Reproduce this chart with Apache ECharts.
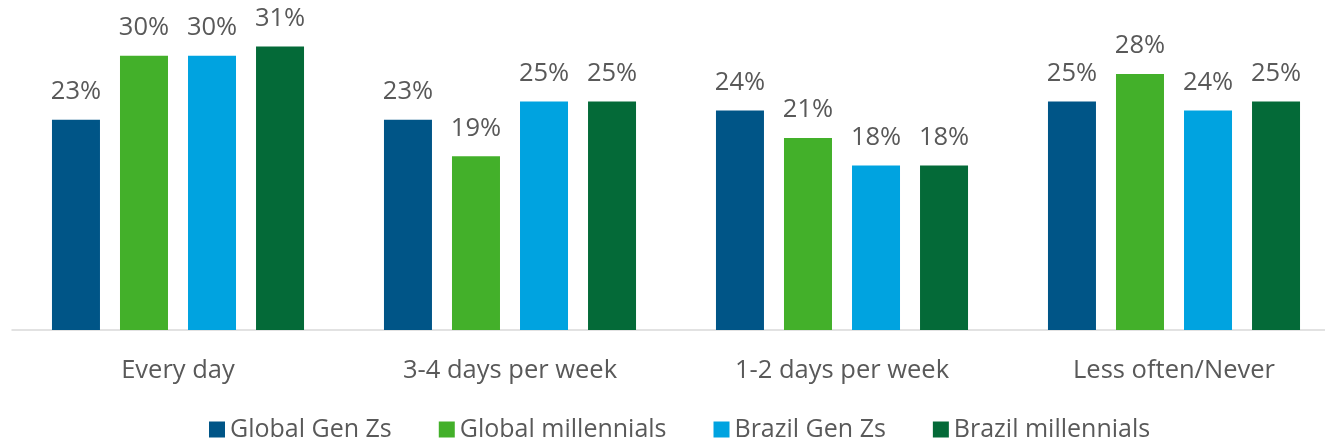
<!DOCTYPE html>
<html>
<head>
<meta charset="utf-8">
<script src="https://cdn.jsdelivr.net/npm/echarts@6/dist/echarts.min.js"></script>
<style>
  html, body { margin: 0; padding: 0; background: #fff; }
  #chart { width: 1325px; height: 442px; }
</style>
</head>
<body>
<div id="chart"></div>
<script>
// data
const categories = ['Every day', '3-4 days per week', '1-2 days per week', 'Less often/Never'];
const globalGenZ = [23, 23, 24, 25];
const globalMillennials = [30, 19, 21, 28];
const brazilGenZ = [30, 25, 18, 24];
const brazilMillennials = [31, 25, 18, 25];

const seriesNames = ['Global Gen Zs', 'Global millennials', 'Brazil Gen Zs', 'Brazil millennials'];
const seriesColors = ['#005587', '#43B02A', '#00A3E0', '#046A38'];
const seriesData = [globalGenZ, globalMillennials, brazilGenZ, brazilMillennials];

const textColor = '#595959';
const font = '"Open Sans", "Noto Sans", sans-serif';

const chart = echarts.init(document.getElementById('chart'));

const option = {
  animation: false,
  textStyle: { fontFamily: font },
  legend: {
    left: 204,
    top: 412,
    itemWidth: 16,
    itemHeight: 16,
    itemGap: 47,
    icon: 'rect',
    textStyle: { color: textColor, fontSize: 25, lineHeight: 24, fontFamily: font },
    data: seriesNames
  },
  grid: {
    left: 12,
    width: 1328,
    top: 10,
    height: 320,
    outerBoundsMode: 'none',
    containLabel: false
  },
  xAxis: {
    type: 'category',
    data: categories,
    axisLine: { lineStyle: { color: '#d9d9d9', width: 1.5 } },
    axisTick: { show: false },
    axisLabel: { color: textColor, fontSize: 25.5, fontFamily: font, margin: 28 }
  },
  yAxis: {
    type: 'value',
    min: 0,
    max: 35,
    show: false,
    splitLine: { show: false }
  },
  series: seriesData.map((d, i) => ({
    name: seriesNames[i],
    type: 'bar',
    data: d,
    barWidth: 48,
    barGap: '41.7%',
    itemStyle: { color: seriesColors[i] },
    label: {
      show: true,
      position: 'top',
      distance: 15,
      formatter: '{c}%',
      color: textColor,
      fontSize: 25.5,
      fontFamily: font
    }
  }))
};

chart.setOption(option);
</script>
</body>
</html>
